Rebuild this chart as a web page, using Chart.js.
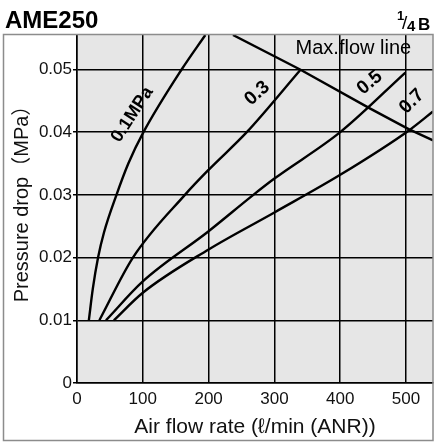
<!DOCTYPE html>
<html>
<head>
<meta charset="utf-8">
<script src="https://cdn.jsdelivr.net/npm/chart.js@4/dist/chart.umd.min.js"></script>
<style>
  html, body { margin: 0; padding: 0; background: #fff; }
  #wrap { width: 434px; height: 443px; }
</style>
</head>
<body>
<div id="wrap"><canvas id="dropChart" width="434" height="443"></canvas></div>
<script>
// flow rate (l/min ANR) vs pressure drop (MPa)
const flow01 = [18, 24, 32, 41, 60, 78, 101, 159, 195];
const drop01 = [0.01, 0.015, 0.02, 0.024, 0.03, 0.035, 0.04, 0.05, 0.0555];

const flow03 = [34, 85, 164, 200, 258, 340];
const drop03 = [0.01, 0.02, 0.03, 0.034, 0.04, 0.05];

const flow05 = [44, 100, 200, 268, 300, 400, 499];
const drop05 = [0.01, 0.0162, 0.0242, 0.03, 0.0326, 0.04, 0.0495];

const flow07 = [56, 100, 200, 300, 400, 506, 541];
const drop07 = [0.01, 0.0144, 0.0213, 0.0272, 0.0332, 0.0404, 0.0433];

const maxFlowX = [237, 339, 445, 504, 541];
const maxFlowY = [0.0555, 0.05, 0.0438, 0.0405, 0.0387];

const xTicks = [0, 100, 200, 300, 400, 500];
const yTicks = [0, 0.01, 0.02, 0.03, 0.04, 0.05];

const FONT = "'Liberation Sans', Arial, Helvetica, sans-serif";

function pts(xs, ys) {
    return xs.map((x, i) => ({ x: x, y: ys[i] }));
}

function curve(xs, ys, smooth) {
    return {
        data: pts(xs, ys),
        showLine: true,
        borderColor: '#000',
        borderWidth: 2.4,
        pointRadius: 0,
        fill: false,
        cubicInterpolationMode: smooth ? 'monotone' : 'default',
        tension: 0
    };
}

// grey plot area + frame round the whole figure
const backdrop = {
    id: 'backdrop',
    beforeDraw(chart) {
        const { ctx, chartArea: a } = chart;
        ctx.save();
        ctx.fillStyle = '#fff';
        ctx.fillRect(0, 0, chart.width, chart.height);
        ctx.fillStyle = '#e6e6e6';
        ctx.fillRect(a.left, a.top, a.right - a.left, a.bottom - a.top);
        ctx.restore();
    },
    afterDraw(chart) {
        const { ctx, chartArea: a } = chart;
        ctx.save();
        ctx.strokeStyle = '#8c8c8c';
        ctx.lineWidth = 1.5;
        ctx.strokeRect(3.5, a.top - 0.5, a.right - 3.5, 441 - a.top);
        ctx.restore();
    }
};

// curve names, header text
const notes = {
    id: 'notes',
    afterDraw(chart) {
        const { ctx } = chart;
        const xs = chart.scales.x, ys = chart.scales.y;
        const put = (txt, x, y, deg, font) => {
            ctx.save();
            ctx.translate(xs.getPixelForValue(x), ys.getPixelForValue(y));
            ctx.rotate(deg * Math.PI / 180);
            ctx.font = font;
            ctx.fillStyle = '#000';
            ctx.textAlign = 'center';
            ctx.textBaseline = 'middle';
            ctx.fillText(txt, 0, 0);
            ctx.restore();
        };
        put('0.1MPa', 84, 0.0428, -57, 'bold 18px ' + FONT);
        put('0.3', 274, 0.0462, -42, 'bold 19px ' + FONT);
        put('0.5', 445, 0.0479, -40, 'bold 19px ' + FONT);
        put('0.7', 509, 0.0449, -45, 'bold 19px ' + FONT);
        put('Max.flow line', 420, 0.0533, 0, '20px ' + FONT);

        ctx.save();
        ctx.fillStyle = '#000';
        ctx.textBaseline = 'alphabetic';
        ctx.textAlign = 'left';
        ctx.font = 'bold 24px ' + FONT;
        ctx.fillText('AME250', 5, 28);
        ctx.font = 'bold 13px ' + FONT;
        ctx.fillText('1', 397, 20);
        ctx.font = '19px ' + FONT;
        ctx.fillText('/', 402, 29);
        ctx.font = 'bold 15px ' + FONT;
        ctx.fillText('4', 407, 31);
        ctx.font = 'bold 17px ' + FONT;
        ctx.fillText('B', 418, 30);
        ctx.restore();
    }
};

const ctx = document.getElementById('dropChart').getContext('2d');

const dropChart = new Chart(ctx, {
    type: 'scatter',
    data: {
        datasets: [
            curve(flow01, drop01, true),
            curve(flow03, drop03, true),
            curve(flow05, drop05, true),
            curve(flow07, drop07, true),
            curve(maxFlowX, maxFlowY, false)
        ]
    },
    options: {
        responsive: false,
        animation: false,
        devicePixelRatio: 1,
        layout: { padding: { top: 35, right: 1, left: 0, bottom: 0 } },
        plugins: {
            legend: { display: false },
            tooltip: { enabled: false }
        },
        scales: {
            x: {
                type: 'linear',
                min: 0,
                max: 541,
                afterFit(scale) { scale.height = 60; },
                afterBuildTicks(scale) { scale.ticks = xTicks.map(v => ({ value: v })); },
                ticks: {
                    includeBounds: false,
                    color: '#111',
                    padding: 6,
                    maxRotation: 0,
                    font: { family: FONT, size: 17 },
                    callback: v => String(v)
                },
                grid: { color: '#000', lineWidth: 1.5, drawTicks: false },
                border: { color: '#000', width: 1.5 },
                title: {
                    display: true,
                    text: 'Air flow rate (ℓ/min (ANR))',
                    color: '#111',
                    font: { family: FONT, size: 21 },
                    padding: { top: 0, bottom: 3 }
                }
            },
            y: {
                type: 'linear',
                min: 0,
                max: 0.0555,
                afterFit(scale) { scale.width = 77; },
                afterBuildTicks(scale) { scale.ticks = yTicks.map(v => ({ value: v })); },
                ticks: {
                    includeBounds: false,
                    color: '#111',
                    padding: 1,
                    font: { family: FONT, size: 17 },
                    callback: v => (v === 0 ? '0' : v.toFixed(2))
                },
                grid: { color: '#000', lineWidth: 1.5, tickLength: 4 },
                border: { color: '#000', width: 1.5 },
                title: {
                    display: true,
                    text: '\u3000Pressure drop（MPa）',
                    color: '#111',
                    font: { family: FONT + ", 'Noto Sans CJK JP'", size: 20 },
                    padding: { top: 10, bottom: 0 }
                }
            }
        }
    },
    plugins: [backdrop, notes]
});
</script>
</body>
</html>
